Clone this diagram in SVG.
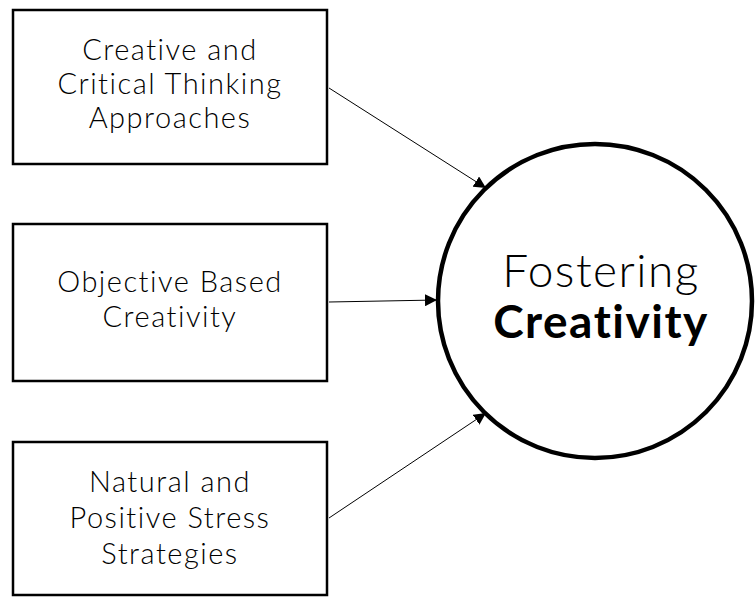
<svg xmlns="http://www.w3.org/2000/svg" width="755" height="597" viewBox="0 0 755 597">
<defs>
<style>
.box{fill:#fff;stroke:#000;stroke-width:2.5}
.t{font-family:Lato,"Liberation Sans",sans-serif;font-size:29px;fill:#000;text-anchor:middle;font-weight:300;letter-spacing:1.5px}
.c{font-family:Lato,"Liberation Sans",sans-serif;font-size:46px;fill:#000;text-anchor:middle;letter-spacing:1.5px}
.edge{stroke:#000;stroke-width:1;fill:none}
</style>
<marker id="arr" viewBox="0 0 10 10" refX="10" refY="5" markerWidth="12" markerHeight="12" markerUnits="userSpaceOnUse" orient="auto">
<path d="M0,0 L10,5 L0,10 Z" fill="#000"/>
</marker>
</defs>
<rect width="755" height="597" fill="#fff"/>
<g id="n1">
<rect class="box" x="13" y="10" width="314" height="154"/>
<text class="t" x="170" y="60">Creative and</text>
<text class="t" x="170" y="94">Critical Thinking</text>
<text class="t" x="170" y="128">Approaches</text>
</g>
<g id="n2">
<rect class="box" x="13" y="224" width="314" height="157"/>
<text class="t" x="170" y="292">Objective Based</text>
<text class="t" x="170" y="327">Creativity</text>
</g>
<g id="n3">
<rect class="box" x="13" y="442" width="314" height="153"/>
<text class="t" x="170" y="492">Natural and</text>
<text class="t" x="170" y="528">Positive Stress</text>
<text class="t" x="170" y="564">Strategies</text>
</g>
<g id="n4">
<circle cx="595" cy="301" r="157" fill="#fff" stroke="#000" stroke-width="4.5"/>
<text class="c" x="601" y="287" font-weight="300">Fostering</text>
<text class="c" x="601" y="338" font-weight="bold">Creativity</text>
</g>
<g id="edges">
<line class="edge" x1="329" y1="88" x2="486" y2="188" marker-end="url(#arr)"/>
<line class="edge" x1="329" y1="302" x2="437" y2="300" marker-end="url(#arr)"/>
<line class="edge" x1="329" y1="518" x2="486" y2="413" marker-end="url(#arr)"/>
</g>
</svg>
